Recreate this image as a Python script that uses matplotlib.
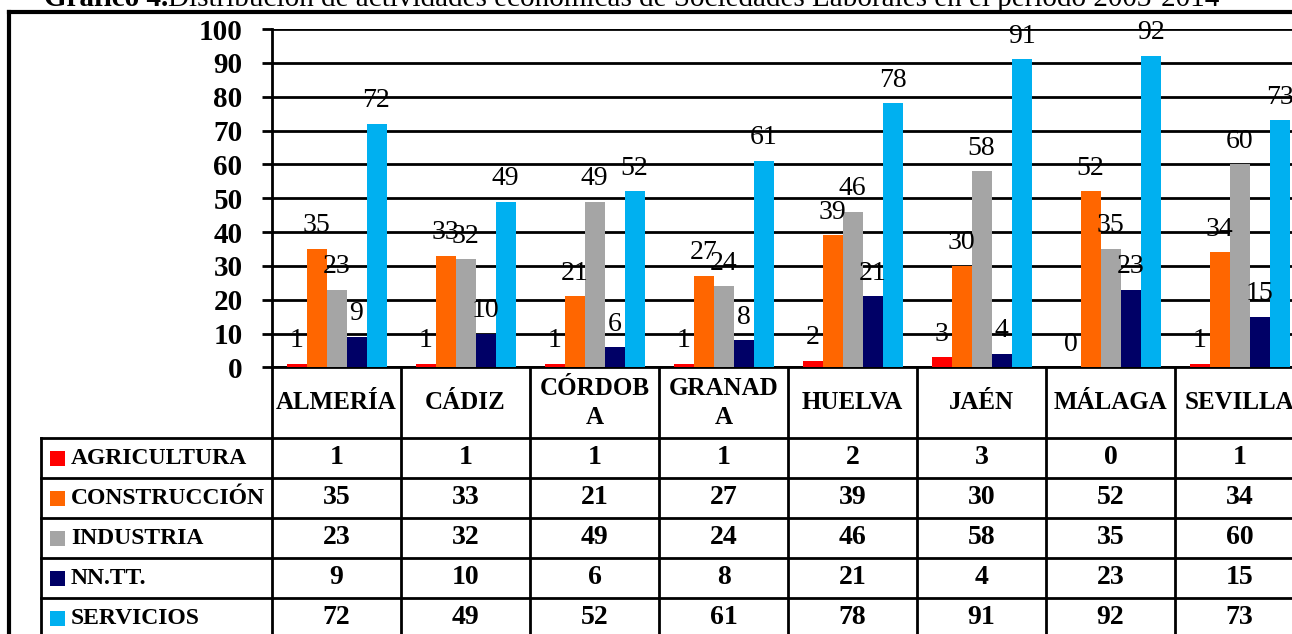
import matplotlib
matplotlib.use("Agg")
import matplotlib.pyplot as plt
import matplotlib.transforms as mtransforms
from matplotlib.patches import Rectangle
import numpy as np

plt.rcParams['font.family'] = ['Liberation Serif', 'DejaVu Serif']

# data
provincias = ["ALMERÍA", "CÁDIZ", "CÓRDOBA", "GRANADA", "HUELVA", "JAÉN", "MÁLAGA", "SEVILLA"]
cabeceras = ["ALMERÍA", "CÁDIZ", "CÓRDOB\nA", "GRANAD\nA", "HUELVA", "JAÉN", "MÁLAGA", "SEVILLA"]
series = ["AGRICULTURA", "CONSTRUCCIÓN", "INDUSTRIA", "NN.TT.", "SERVICIOS"]
agricultura = [1, 1, 1, 1, 2, 3, 0, 1]
construccion = [35, 33, 21, 27, 39, 30, 52, 34]
industria = [23, 32, 49, 24, 46, 58, 35, 60]
nntt = [9, 10, 6, 8, 21, 4, 23, 15]
servicios = [72, 49, 52, 61, 78, 91, 92, 73]
colores = ["#FF0000", "#FF6600", "#A5A5A5", "#000066", "#00B0F0"]
titulo_a = "Gráfico 4."
titulo_b = "Distribución de actividades económicas de Sociedades Laborales en el período 2003-2014"

valores = [agricultura, construccion, industria, nntt, servicios]

W, H = 1292, 634
fig = plt.figure(figsize=(W / 100, H / 100), dpi=100)


def fy(py):
    return 1 - py / H


def fx(px):
    return px / W


# plot area (runs past the right edge, as in the cropped original)
x0, x1 = 272, 272 + 8 * 129
y0, y100 = 367.5, 29
ax = fig.add_axes([fx(x0), fy(y0), fx(x1) - fx(x0), fy(y100) - fy(y0)])

x = np.arange(len(provincias))
bw = 20 / 129
for i, (vals, col) in enumerate(zip(valores, colores)):
    pos = x + (i - 2) * bw
    ax.bar(pos, vals, width=bw, color=col, zorder=3)
    for xp, v in zip(pos, vals):
        ax.annotate(str(v), (xp, v), xytext=(0, 12), textcoords="offset points",
                    ha="center", va="baseline", fontsize=20, zorder=4)

ax.set_xlim(-0.5, len(provincias) - 0.5)
ax.set_ylim(0, 100)
ax.set_yticks(range(0, 101, 10))
ax.set_xticks([])
ax.yaxis.grid(True, color="black", linewidth=2, zorder=0)
ax.set_axisbelow(True)
ax.tick_params(axis="y", length=7.2, width=2, pad=14, labelsize=21)
for lab in ax.get_yticklabels():
    lab.set_fontweight("bold")
for s in ["top", "right"]:
    ax.spines[s].set_visible(False)
ax.spines["left"].set_linewidth(2)
ax.spines["bottom"].set_linewidth(2)

# data table under the chart
tr = mtransforms.blended_transform_factory(ax.transData, fig.transFigure)
lw = 2
rows_y = [438, 478, 518, 558, 598, 638]
left_data = -0.5 - (x0 - 41) / 129
right_data = len(provincias) - 0.5
bottom_y = fy(700)

# vertical lines
for k in range(len(provincias) + 1):
    ax.plot([k - 0.5, k - 0.5], [fy(y0), bottom_y], transform=tr, color="black",
            lw=lw, clip_on=False, solid_capstyle="butt")
ax.plot([left_data, left_data], [fy(rows_y[0]), bottom_y], transform=tr, color="black",
        lw=lw, clip_on=False)
# horizontal lines
for ry in rows_y[:-1]:
    ax.plot([left_data, right_data], [fy(ry), fy(ry)], transform=tr, color="black",
            lw=lw, clip_on=False)

# header row
for k, name in enumerate(cabeceras):
    fig.text(k, fy((y0 + rows_y[0]) / 2), name, transform=tr, fontsize=18,
             fontweight="bold", ha="center", va="center", linespacing=1.35)

# rows
for r, (nombre, vals, col) in enumerate(zip(series, valores, colores)):
    cy = (rows_y[r] + rows_y[r + 1]) / 2
    fig.patches.append(Rectangle((fx(50), fy(cy + 7.5)), fx(15), 15 / H,
                                 transform=fig.transFigure, facecolor=col,
                                 edgecolor="none", figure=fig))
    fig.text(fx(71), fy(cy), nombre, fontsize=17, fontweight="bold",
             ha="left", va="center")
    for k, v in enumerate(vals):
        fig.text(k, fy(cy), str(v), transform=tr, fontsize=20, fontweight="bold",
                 ha="center", va="center")

# chart frame
fig.add_artist(plt.Line2D([fx(9), fx(9)], [fy(12), 0], color="black", lw=3))
fig.add_artist(plt.Line2D([fx(9), 1], [fy(12), fy(12)], color="black", lw=3))

# title (cut off at the top in the original)
fig.canvas.draw()
t1 = fig.text(fx(44), fy(6), titulo_a, fontsize=21, fontweight="bold", va="baseline")
fig.canvas.draw()
bb = t1.get_window_extent()
fig.text(bb.x1 / W, fy(6), titulo_b, fontsize=21, va="baseline")

fig.savefig("out.png", dpi=100)
